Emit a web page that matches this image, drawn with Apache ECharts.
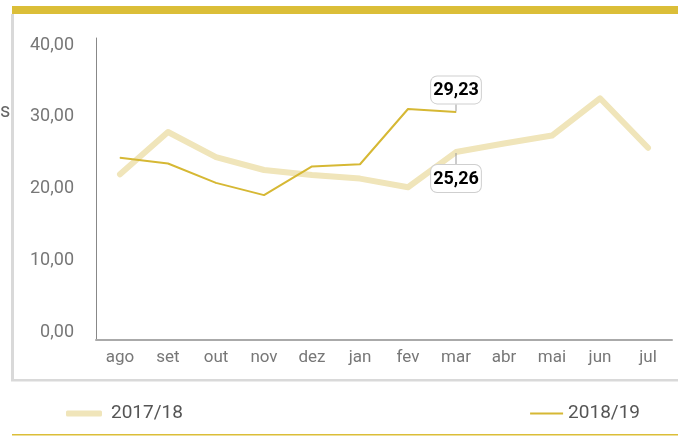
<!DOCTYPE html>
<html>
<head>
<meta charset="utf-8">
<script src="https://cdn.jsdelivr.net/npm/echarts@6/dist/echarts.min.js"></script>
<style>
  html, body { margin: 0; padding: 0; background: #fff; }
  #chart { width: 678px; height: 437px; }
</style>
</head>
<body>
<div id="chart"></div>
<script>
// meses (ago -> jul)
const months = ['ago', 'set', 'out', 'nov', 'dez', 'jan', 'fev', 'mar', 'abr', 'mai', 'jun', 'jul']
const season1718 = [22.0, 27.9, 24.4, 22.6, 21.9, 21.4, 20.2, 25.1, 26.3, 27.4, 32.6, 25.7]
const season1819 = [24.3, 23.5, 20.8, 19.1, 23.1, 23.4, 31.1, 30.7]
const yTicks = [0, 10, 20, 30, 40]
// textos das etiquetas em "mar"
const callout1718 = '25,26'
const callout1819 = '29,23'

const COLOR_PALE = '#F0E5BA'
const COLOR_GOLD = '#D6B834'
const FONT = 'Roboto, "Liberation Sans", sans-serif'

const calloutLabel = (text, pos) => ({
  show: true,
  position: pos,
  distance: 0,
  formatter: text,
  fontFamily: FONT,
  fontWeight: 'bold',
  fontSize: 18,
  lineHeight: 20,
  color: '#000',
  backgroundColor: '#fff',
  borderColor: '#cfcfcf',
  borderWidth: 1,
  borderRadius: 6,
  padding: [4, 2, 3, 2]
})

const marIdx = months.indexOf('mar')
const data1718 = season1718.map((v, i) => i === marIdx ? { value: v, label: calloutLabel(callout1718, 'bottom') } : v)
const data1819 = season1819.map((v, i) => i === marIdx ? { value: v, label: calloutLabel(callout1819, 'top') } : v)

const chart = echarts.init(document.getElementById('chart'))

const option = {
  animation: false,
  grid: { left: 96, right: 6, top: 38, bottom: 97 },
  legend: [
    {
      data: [{ name: '2017/18', icon: 'roundRect' }],
      left: 61, top: 399,
      itemWidth: 36, itemHeight: 6,
      itemStyle: { color: COLOR_PALE },
      textStyle: { fontFamily: FONT, fontSize: 19, color: '#555', padding: [0, 0, 0, 4] }
    },
    {
      data: [{ name: '2018/19', icon: 'rect' }],
      right: 33, top: 399,
      itemWidth: 33, itemHeight: 2,
      itemStyle: { color: COLOR_GOLD },
      textStyle: { fontFamily: FONT, fontSize: 19, color: '#555' }
    }
  ],
  xAxis: {
    type: 'category',
    data: months,
    boundaryGap: true,
    axisLine: { onZero: false, lineStyle: { color: '#aaa', width: 2 } },
    axisTick: { show: false },
    axisLabel: { fontFamily: FONT, fontSize: 17, color: '#777', margin: 9 }
  },
  yAxis: {
    type: 'value',
    min: -1.1,
    max: 41,
    splitLine: { show: false },
    axisLine: { show: true, lineStyle: { color: '#888', width: 1 } },
    axisTick: { show: false },
    axisLabel: {
      customValues: yTicks,
      fontFamily: FONT,
      fontSize: 18,
      color: '#777',
      margin: 22,
      formatter: v => v.toFixed(2).replace('.', ',')
    }
  },
  series: [
    {
      name: '2017/18',
      type: 'line',
      data: data1718,
      symbol: 'circle',
      symbolSize: 2,
      showSymbol: true,
      itemStyle: { color: COLOR_PALE },
      lineStyle: { width: 6, color: COLOR_PALE, cap: 'round', join: 'round' },
      labelLayout: { dy: 12 },
      labelLine: { show: true, lineStyle: { color: '#999', width: 1 } },
      z: 2
    },
    {
      name: '2018/19',
      type: 'line',
      data: data1819,
      symbol: 'circle',
      symbolSize: 1,
      showSymbol: true,
      itemStyle: { color: COLOR_GOLD },
      lineStyle: { width: 2, color: COLOR_GOLD },
      labelLayout: { dy: -8 },
      labelLine: { show: true, lineStyle: { color: '#999', width: 1 } },
      z: 3
    }
  ],
  graphic: [
    { type: 'rect', shape: { x: 12, y: 6, width: 666, height: 8 }, style: { fill: '#DBBE38' } },
    { type: 'rect', shape: { x: 11, y: 14, width: 3, height: 367 }, style: { fill: '#d9d9d9' } },
    { type: 'rect', shape: { x: 11, y: 379, width: 667, height: 2.5 }, style: { fill: '#d9d9d9' } },
    { type: 'rect', shape: { x: 12, y: 434, width: 666, height: 1.5 }, style: { fill: '#DBBE38' } },
    { type: 'text', x: 0, y: 112, style: { text: 's', fontFamily: FONT, fontSize: 20, fill: '#666', verticalAlign: 'middle' } }
  ]
}

chart.setOption(option)
</script>
</body>
</html>
